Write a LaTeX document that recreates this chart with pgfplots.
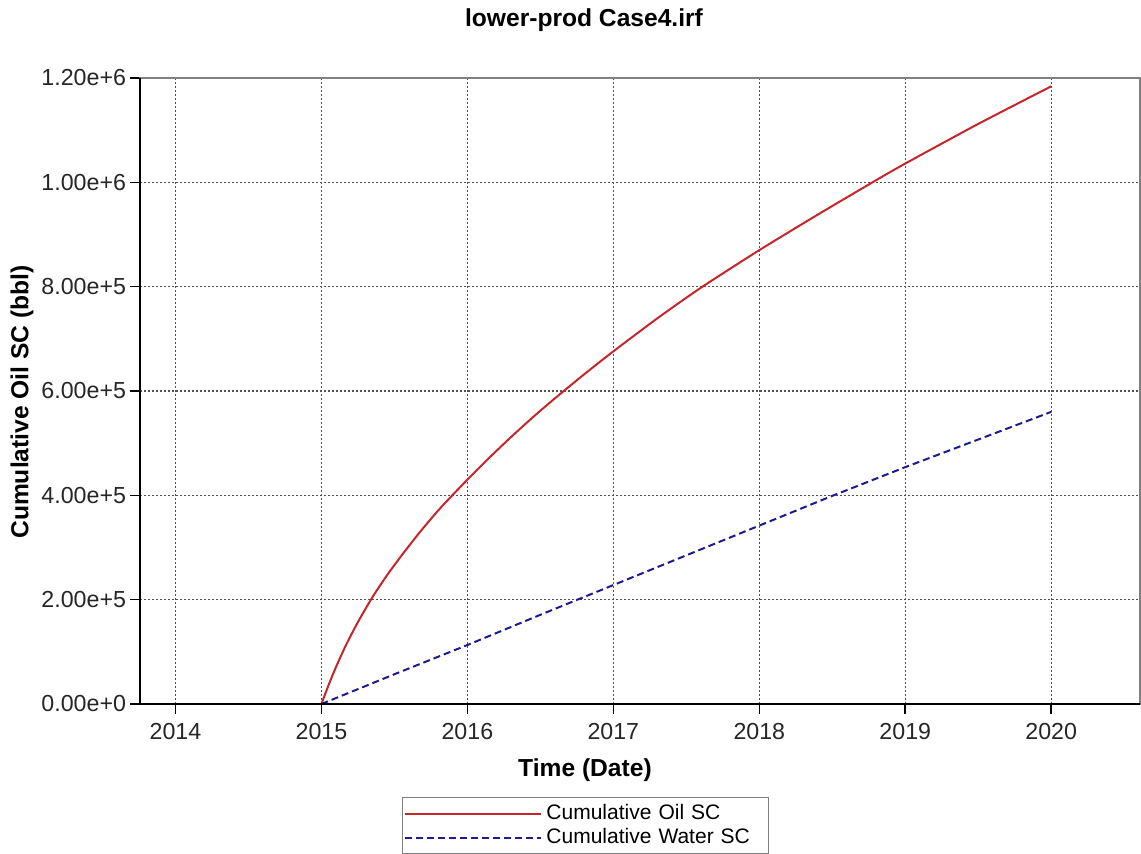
\documentclass[border=0pt]{standalone}
\usepackage{fontspec}
\setmainfont{Liberation Sans}
\usepackage{pgfplots}
\pgfplotsset{compat=1.18}

\definecolor{oilred}{RGB}{196,38,42}
\definecolor{waterblue}{RGB}{28,28,140}
\definecolor{gridgray}{RGB}{80,80,80}

\pgfplotstableread{
t v
2015.00 0
2015.02 15000
2015.05 37000
2015.10 71000
2015.17 114000
2015.25 157000
2015.35 205000
2015.45 247000
2015.55 285000
2015.67 328000
2015.80 371000
2015.90 401000
2016.00 430000
2016.15 472000
2016.30 512000
2016.45 550000
2016.60 586000
2016.80 632000
2017.00 676000
2017.30 739000
2017.60 798000
2018.00 870000
2018.40 938000
2018.80 1004000
2019.00 1036000
2019.50 1112000
2020.00 1184000
}\oil

\pgfplotstableread{
t v
2015.0 0
2015.5 57000
2016.0 113000
2016.5 171000
2017.0 228000
2017.5 285000
2018.0 342000
2018.5 399000
2019.0 454000
2019.5 507000
2020.0 560000
}\water

\begin{document}
\begin{tikzpicture}
\begin{axis}[
  at={(0,0)}, anchor=south west,
  scale only axis,
  width=500pt, height=313pt,
  xmin=2013.757, xmax=2020.608,
  ymin=0, ymax=1200000,
  xtick={2014,2015,2016,2017,2018,2019,2020},
  xticklabels={2014,2015,2016,2017,2018,2019,2020},
  ytick={0,200000,400000,600000,800000,1000000,1200000},
  yticklabels={0.00e+0,2.00e+5,4.00e+5,6.00e+5,8.00e+5,1.00e+6,1.20e+6},
  scaled y ticks=false,
  tick align=outside,
  xtick pos=left, ytick pos=left,
  major tick length=4.8pt,
  tick style={black, line width=0.8pt},
  ticklabel style={font=\fontsize{11.6}{13.9}\selectfont, text=black!85},
  xticklabel style={inner sep=0pt, yshift=-4.5pt, anchor=north},
  yticklabel style={inner sep=0pt, xshift=-2pt, anchor=east},
  grid=major,
  major grid style={gridgray, line width=0.6pt, dash pattern=on 1pt off 1pt},
  axis line style={draw=gray, line width=0.8pt},
  clip=false,
  legend style={
    at={(0.262,-0.1486)}, anchor=north west,
    draw=gray, line width=0.5pt,
    font=\fontsize{10.5}{12}\selectfont,
    inner xsep=1pt, inner ysep=1.5pt,
    row sep=-1pt,
    /tikz/every even column/.append style={text width=108pt, align=left},
  },
  legend cell align=left,
  legend image code/.code={\draw[#1] (0pt,0pt) -- (68pt,0pt);},
]
\addplot[oilred, line width=1pt, smooth, tension=0.4] table[x=t, y=v] {\oil};
\addlegendentry{Cumulative Oil SC}
\addplot[waterblue, line width=1pt, dash pattern=on 3.5pt off 2pt] table[x=t, y=v] {\water};
\addlegendentry{Cumulative Water SC}
\draw[black, line width=1pt] (rel axis cs:0,1) -- (rel axis cs:0,0) -- (rel axis cs:1,0);
\end{axis}
\node[font=\fontsize{12.3}{14}\selectfont\bfseries] at (222pt,342pt) {lower-prod Case4.irf};
\node[font=\fontsize{12.3}{14}\selectfont\bfseries] at (222.5pt,-33pt) {Time (Date)};
\node[font=\fontsize{12.3}{14}\selectfont\bfseries, rotate=90] at (-59pt,151pt) {Cumulative Oil SC (bbl)};
\pgfresetboundingbox
\path[use as bounding box] (-70pt,-75pt) rectangle (500.5pt,352pt);
\end{tikzpicture}
\end{document}
